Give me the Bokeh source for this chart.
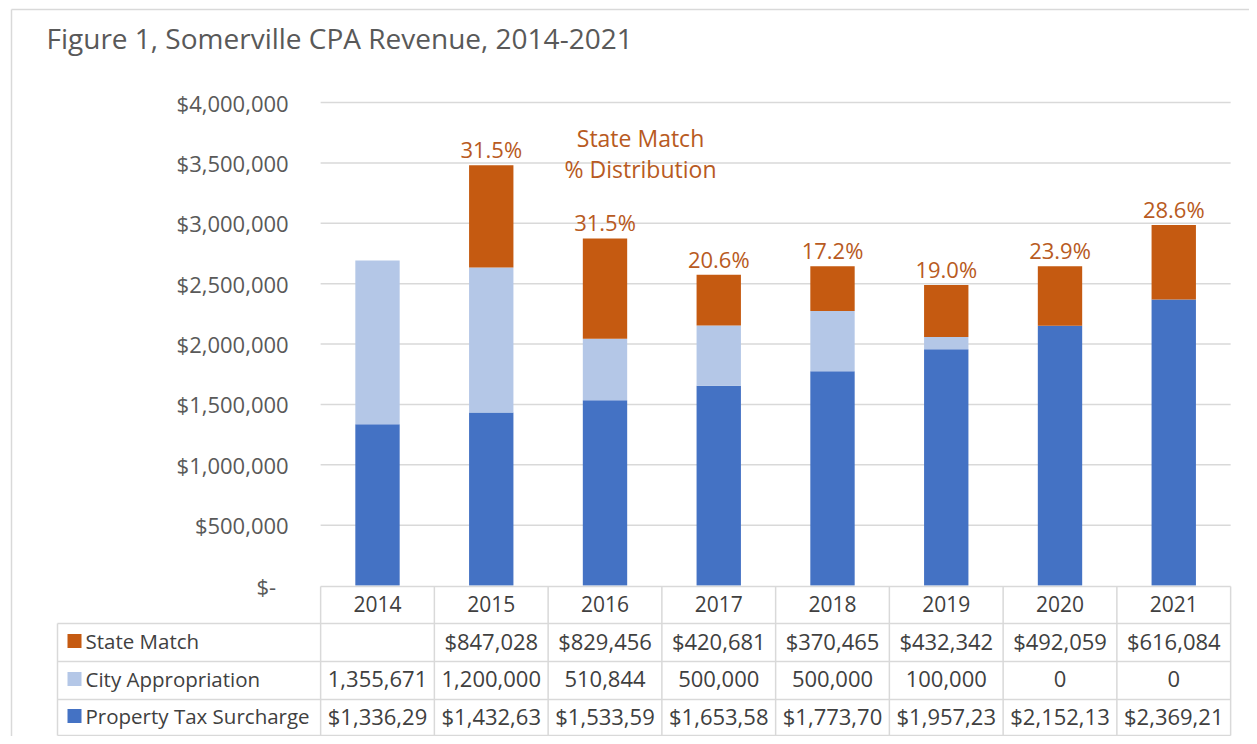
from bokeh.plotting import figure
from bokeh.models import Range1d, FixedTicker, NumeralTickFormatter, ColumnDataSource
from bokeh.core.properties import value
from bokeh.embed import file_html
from bokeh.resources import INLINE

# ---------------- data ----------------
years = ["2014", "2015", "2016", "2017", "2018", "2019", "2020", "2021"]
property_tax = [1336290, 1432630, 1533590, 1653580, 1773700, 1957230, 2152130, 2369210]
city_appropriation = [1355671, 1200000, 510844, 500000, 500000, 100000, 0, 0]
state_match = [0, 847028, 829456, 420681, 370465, 432342, 492059, 616084]
state_match_pct = ["", "31.5%", "31.5%", "20.6%", "17.2%", "19.0%", "23.9%", "28.6%"]
y_ticks = [0, 500000, 1000000, 1500000, 2000000, 2500000, 3000000, 3500000, 4000000]
series_names = ["State Match", "City Appropriation", "Property Tax Surcharge"]
series_colors = ["#C55A11", "#B4C7E7", "#4472C4"]
title_text = "Figure 1, Somerville CPA Revenue, 2014-2021"
note_lines = ["State Match", "% Distribution"]

# ---------------- layout helpers (canvas pixel -> data) ----------------
W, H = 1249, 736
X0_PX = 377              # canvas px of first category centre
COL_PX = 113.75          # px per category
Y0_PX = 585              # canvas px of $0
PXD = 483 / 4e6          # px per dollar

def px_x(cx):
    return (cx - X0_PX) / COL_PX

def px_y(cy):
    return (Y0_PX - cy) / PXD

FONT = value("Open Sans")
GRAY = "#595959"
DARK = "#404040"
LINE = "#D9D9D9"
PCT = "#B85A22"

p = figure(width=W, height=H, output_backend="svg", toolbar_location=None,
           x_range=Range1d(-X0_PX / COL_PX, (W - X0_PX) / COL_PX),
           y_range=Range1d(-(H - Y0_PX) / PXD, Y0_PX / PXD),
           x_axis_location=None, y_axis_location="left", min_border=0)
p.outline_line_color = None
p.grid.visible = False
p.background_fill_color = "white"
p.border_fill_color = "white"

n = len(years)
xs = list(range(n))

# outer chart border
p.segment(x0=[px_x(11), px_x(11)], y0=[px_y(9), px_y(9)],
          x1=[px_x(11), px_x(1270)], y1=[px_y(760), px_y(9)],
          line_color=LINE, line_width=1.5)

# gridlines
left, right = -0.5, n - 0.5
p.segment(x0=[left] * len(y_ticks[1:]), y0=y_ticks[1:], x1=[right] * len(y_ticks[1:]), y1=y_ticks[1:],
          line_color=LINE, line_width=1.5)

# y axis
ax = p.yaxis[0]
ax.fixed_location = left
ax.ticker = FixedTicker(ticks=y_ticks)
ax.formatter = NumeralTickFormatter(format="$0,0")
ax.major_label_overrides = {0: "$-\u2007"}
ax.axis_line_color = None
ax.major_tick_line_color = None
ax.minor_tick_line_color = None
ax.major_tick_out = 0
ax.major_tick_in = 0
ax.major_label_standoff = 32
ax.major_label_text_font = "Open Sans"
ax.major_label_text_font_size = "22px"
ax.major_label_text_color = GRAY

# stacked bars
src = ColumnDataSource(dict(x=xs, prop=property_tax, city=city_appropriation, state=state_match,
                            total=[a + b + c for a, b, c in zip(property_tax, city_appropriation, state_match)],
                            pct=state_match_pct))
p.vbar_stack(["prop", "city", "state"], x="x", width=0.39, source=src,
             fill_color=[series_colors[2], series_colors[1], series_colors[0]], line_color=None)

# percentage labels
p.text(x="x", y="total", text="pct", source=src, text_align="center", text_baseline="bottom",
       y_offset=-1, text_font=FONT, text_font_size="22px", text_color=PCT)

# annotation (two lines)
p.text(x=[px_x(640)] * 2, y=[px_y(137), px_y(168)], text=note_lines, text_align="center",
       text_baseline="middle", text_font=FONT, text_font_size="23px", text_color=PCT)

# title
p.text(x=[px_x(46)], y=[px_y(37)], text=[title_text], text_align="left", text_baseline="middle",
       text_font=FONT, text_font_size="28px", text_color=GRAY)

# ---------------- data table ----------------
rows_px = [586, 623, 661, 699, 735]
tab_left = px_x(57)
rows = [px_y(v) for v in rows_px]
# horizontal lines
hx0 = [left] + [tab_left] * 4
p.segment(x0=hx0, y0=rows, x1=[right] * 5, y1=rows, line_color=LINE, line_width=1.5)
# vertical lines
vx = [i - 0.5 for i in range(n + 1)]
p.segment(x0=vx, y0=[rows[0]] * len(vx), x1=vx, y1=[rows[-1]] * len(vx), line_color=LINE, line_width=1.5)
p.segment(x0=[tab_left], y0=[rows[1]], x1=[tab_left], y1=[rows[-1]], line_color=LINE, line_width=1.5)

row_centers = [(rows[i] + rows[i + 1]) / 2 + 1.5 / PXD for i in range(4)]

# header years
p.text(x=xs, y=[row_centers[0]] * n, text=years, text_align="center", text_baseline="middle",
       text_font=FONT, text_font_size="21px", text_color=DARK)

# legend keys + names
p.scatter(x=[px_x(74)] * 3, y=row_centers[1:], marker="square", size=14,
          fill_color=series_colors, line_color=None)
p.text(x=[px_x(85)] * 3, y=row_centers[1:], text=series_names, text_align="left", text_baseline="middle",
       text_font=FONT, text_font_size="20.5px", text_color=DARK)

state_txt = ["" if v == 0 else f"${v:,}" for v in state_match]
city_txt = [f"{v:,}" for v in city_appropriation]
prop_txt = [f"${v:,}"[:-1] for v in property_tax]  # last digit clipped by the narrow cell
for txts, yc in zip([state_txt, city_txt, prop_txt], row_centers[1:]):
    p.text(x=xs, y=[yc] * n, text=txts, text_align="center", text_baseline="middle",
           text_font=FONT, text_font_size="22px", text_color=DARK)

open("out.html", "w").write(file_html(p, INLINE))
